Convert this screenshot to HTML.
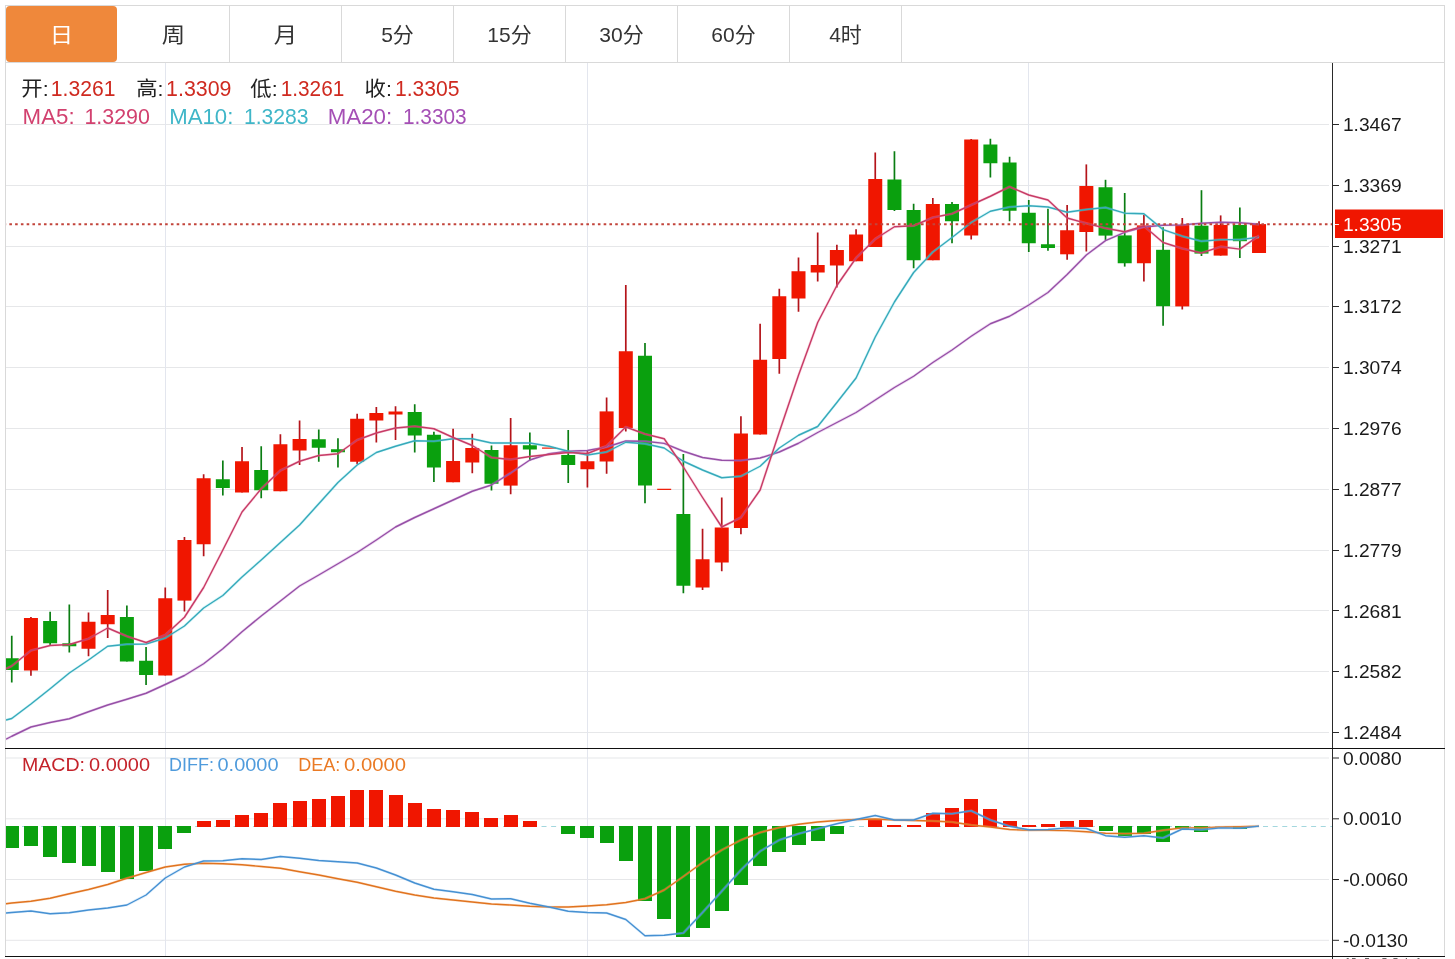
<!DOCTYPE html>
<html lang="zh"><head><meta charset="utf-8"><title>K线图</title>
<style>html,body{margin:0;padding:0;background:#fff;overflow:hidden}body{width:1455px;height:959px}</style></head>
<body>
<svg width="1455" height="959" viewBox="0 0 1455 959" style="display:block">
<defs><clipPath id="cp"><rect x="6" y="63" width="1326" height="894"/></clipPath></defs>
<rect width="1455" height="959" fill="#fff"/>
<g shape-rendering="crispEdges">
<rect x="6" y="124" width="1323" height="1" fill="#e6e7e9"/>
<rect x="6" y="185" width="1323" height="1" fill="#e6e7e9"/>
<rect x="6" y="246" width="1323" height="1" fill="#e6e7e9"/>
<rect x="6" y="306" width="1323" height="1" fill="#e6e7e9"/>
<rect x="6" y="367" width="1323" height="1" fill="#e6e7e9"/>
<rect x="6" y="428" width="1323" height="1" fill="#e6e7e9"/>
<rect x="6" y="489" width="1323" height="1" fill="#e6e7e9"/>
<rect x="6" y="550" width="1323" height="1" fill="#e6e7e9"/>
<rect x="6" y="610" width="1323" height="1" fill="#e6e7e9"/>
<rect x="6" y="671" width="1323" height="1" fill="#e6e7e9"/>
<rect x="6" y="732" width="1323" height="1" fill="#e6e7e9"/>
<rect x="6" y="757.50" width="1323" height="1" fill="#e6e7e9" shape-rendering="auto"/>
<rect x="6" y="818.30" width="1323" height="1" fill="#e6e7e9" shape-rendering="auto"/>
<rect x="6" y="879.00" width="1323" height="1" fill="#e6e7e9" shape-rendering="auto"/>
<rect x="6" y="939.80" width="1323" height="1" fill="#e6e7e9" shape-rendering="auto"/>
<rect x="165" y="63" width="1" height="893" fill="#e3e6ee"/>
<rect x="587" y="63" width="1" height="893" fill="#e3e6ee"/>
<rect x="1028" y="63" width="1" height="893" fill="#e3e6ee"/>
<rect x="5" y="5" width="1440" height="1" fill="#d9d9d9"/>
<rect x="5" y="62" width="1440" height="1" fill="#d9d9d9"/>
<rect x="5" y="5" width="1" height="951" fill="#d9d9d9"/>
<rect x="1444" y="5" width="1" height="951" fill="#d9d9d9"/>
<rect x="229" y="6" width="1" height="56" fill="#d9d9d9"/>
<rect x="341" y="6" width="1" height="56" fill="#d9d9d9"/>
<rect x="453" y="6" width="1" height="56" fill="#d9d9d9"/>
<rect x="565" y="6" width="1" height="56" fill="#d9d9d9"/>
<rect x="677" y="6" width="1" height="56" fill="#d9d9d9"/>
<rect x="789" y="6" width="1" height="56" fill="#d9d9d9"/>
<rect x="901" y="6" width="1" height="56" fill="#d9d9d9"/>
</g>
<rect x="6" y="6" width="111" height="56" rx="4" ry="4" fill="#ef883b"/>
<text x="61.5" y="41.8" text-anchor="middle" font-size="21" textLength="23.4" lengthAdjust="spacingAndGlyphs" font-family="Liberation Sans, Noto Sans CJK SC, sans-serif" fill="#fff">日</text>
<text x="173.5" y="41.8" text-anchor="middle" font-size="21" textLength="23.4" lengthAdjust="spacingAndGlyphs" font-family="Liberation Sans, Noto Sans CJK SC, sans-serif" fill="#333">周</text>
<text x="285.5" y="41.8" text-anchor="middle" font-size="21" textLength="23.4" lengthAdjust="spacingAndGlyphs" font-family="Liberation Sans, Noto Sans CJK SC, sans-serif" fill="#333">月</text>
<text x="397.5" y="42" text-anchor="middle" font-size="21" font-family="Liberation Sans, Noto Sans CJK SC, sans-serif" fill="#333">5分</text>
<text x="509.5" y="42" text-anchor="middle" font-size="21" font-family="Liberation Sans, Noto Sans CJK SC, sans-serif" fill="#333">15分</text>
<text x="621.5" y="42" text-anchor="middle" font-size="21" font-family="Liberation Sans, Noto Sans CJK SC, sans-serif" fill="#333">30分</text>
<text x="733.5" y="42" text-anchor="middle" font-size="21" font-family="Liberation Sans, Noto Sans CJK SC, sans-serif" fill="#333">60分</text>
<text x="845.5" y="42" text-anchor="middle" font-size="21" font-family="Liberation Sans, Noto Sans CJK SC, sans-serif" fill="#333">4时</text>
<line x1="6" y1="826.5" x2="1332" y2="826.5" stroke="#a3d7de" stroke-width="1" stroke-dasharray="5 4.62" stroke-dashoffset="3.2"/>
<g clip-path="url(#cp)">
<g shape-rendering="crispEdges">
<rect x="4.75" y="826" width="14" height="21.50" fill="#0aa00e"/>
<rect x="23.94" y="826" width="14" height="19.75" fill="#0aa00e"/>
<rect x="43.13" y="826" width="14" height="30.75" fill="#0aa00e"/>
<rect x="62.32" y="826" width="14" height="36.50" fill="#0aa00e"/>
<rect x="81.51" y="826" width="14" height="39.50" fill="#0aa00e"/>
<rect x="100.69" y="826" width="14" height="46.00" fill="#0aa00e"/>
<rect x="119.88" y="826" width="14" height="52.75" fill="#0aa00e"/>
<rect x="139.07" y="826" width="14" height="44.50" fill="#0aa00e"/>
<rect x="158.26" y="826" width="14" height="22.75" fill="#0aa00e"/>
<rect x="177.45" y="826" width="14" height="6.50" fill="#0aa00e"/>
<rect x="196.64" y="821.25" width="14" height="5.75" fill="#f01600"/>
<rect x="215.83" y="820.00" width="14" height="7.00" fill="#f01600"/>
<rect x="235.02" y="814.50" width="14" height="12.50" fill="#f01600"/>
<rect x="254.21" y="813.25" width="14" height="13.75" fill="#f01600"/>
<rect x="273.40" y="803.25" width="14" height="23.75" fill="#f01600"/>
<rect x="292.58" y="801.00" width="14" height="26.00" fill="#f01600"/>
<rect x="311.77" y="799.25" width="14" height="27.75" fill="#f01600"/>
<rect x="330.96" y="795.50" width="14" height="31.50" fill="#f01600"/>
<rect x="350.15" y="789.50" width="14" height="37.50" fill="#f01600"/>
<rect x="369.34" y="790.00" width="14" height="37.00" fill="#f01600"/>
<rect x="388.53" y="794.50" width="14" height="32.50" fill="#f01600"/>
<rect x="407.72" y="802.50" width="14" height="24.50" fill="#f01600"/>
<rect x="426.91" y="809.25" width="14" height="17.75" fill="#f01600"/>
<rect x="446.10" y="810.00" width="14" height="17.00" fill="#f01600"/>
<rect x="465.29" y="811.75" width="14" height="15.25" fill="#f01600"/>
<rect x="484.48" y="817.50" width="14" height="9.50" fill="#f01600"/>
<rect x="503.66" y="815.00" width="14" height="12.00" fill="#f01600"/>
<rect x="522.85" y="820.50" width="14" height="6.50" fill="#f01600"/>
<rect x="561.23" y="826" width="14" height="7.75" fill="#0aa00e"/>
<rect x="580.42" y="826" width="14" height="12.00" fill="#0aa00e"/>
<rect x="599.61" y="826" width="14" height="16.50" fill="#0aa00e"/>
<rect x="618.80" y="826" width="14" height="34.50" fill="#0aa00e"/>
<rect x="637.99" y="826" width="14" height="74.75" fill="#0aa00e"/>
<rect x="657.18" y="826" width="14" height="93.25" fill="#0aa00e"/>
<rect x="676.37" y="826" width="14" height="111.00" fill="#0aa00e"/>
<rect x="695.55" y="826" width="14" height="102.00" fill="#0aa00e"/>
<rect x="714.74" y="826" width="14" height="85.25" fill="#0aa00e"/>
<rect x="733.93" y="826" width="14" height="59.00" fill="#0aa00e"/>
<rect x="753.12" y="826" width="14" height="39.50" fill="#0aa00e"/>
<rect x="772.31" y="826" width="14" height="25.50" fill="#0aa00e"/>
<rect x="791.50" y="826" width="14" height="19.00" fill="#0aa00e"/>
<rect x="810.69" y="826" width="14" height="14.50" fill="#0aa00e"/>
<rect x="829.88" y="826" width="14" height="7.75" fill="#0aa00e"/>
<rect x="868.25" y="820.00" width="14" height="7.00" fill="#f01600"/>
<rect x="887.44" y="825.25" width="14" height="1.75" fill="#f01600"/>
<rect x="906.63" y="825.40" width="14" height="1.60" fill="#f01600"/>
<rect x="925.82" y="812.50" width="14" height="14.50" fill="#f01600"/>
<rect x="945.01" y="808.25" width="14" height="18.75" fill="#f01600"/>
<rect x="964.20" y="799.00" width="14" height="28.00" fill="#f01600"/>
<rect x="983.39" y="809.25" width="14" height="17.75" fill="#f01600"/>
<rect x="1002.58" y="820.50" width="14" height="6.50" fill="#f01600"/>
<rect x="1021.77" y="825.40" width="14" height="1.60" fill="#f01600"/>
<rect x="1040.96" y="824.30" width="14" height="2.70" fill="#f01600"/>
<rect x="1060.14" y="820.70" width="14" height="6.30" fill="#f01600"/>
<rect x="1079.33" y="819.50" width="14" height="7.50" fill="#f01600"/>
<rect x="1098.52" y="826" width="14" height="5.20" fill="#0aa00e"/>
<rect x="1117.71" y="826" width="14" height="9.70" fill="#0aa00e"/>
<rect x="1136.90" y="826" width="14" height="8.20" fill="#0aa00e"/>
<rect x="1156.09" y="826" width="14" height="15.60" fill="#0aa00e"/>
<rect x="1175.28" y="826" width="14" height="3.00" fill="#0aa00e"/>
<rect x="1194.47" y="826" width="14" height="5.80" fill="#0aa00e"/>
<rect x="1232.85" y="826" width="14" height="2.50" fill="#0aa00e"/>
</g>
<g>
<line x1="11.75" y1="635.75" x2="11.75" y2="682.50" stroke="#0a7d12" stroke-width="1.7"/>
<rect x="4.75" y="658.25" width="14" height="11.75" fill="#0aa00e"/>
<line x1="30.94" y1="617.00" x2="30.94" y2="675.75" stroke="#b4141a" stroke-width="1.7"/>
<rect x="23.94" y="618.00" width="14" height="52.50" fill="#f01600"/>
<line x1="50.13" y1="611.75" x2="50.13" y2="645.00" stroke="#0a7d12" stroke-width="1.7"/>
<rect x="43.13" y="621.00" width="14" height="22.25" fill="#0aa00e"/>
<line x1="69.32" y1="604.50" x2="69.32" y2="652.50" stroke="#0a7d12" stroke-width="1.7"/>
<rect x="62.32" y="643.25" width="14" height="3.00" fill="#0aa00e"/>
<line x1="88.51" y1="612.50" x2="88.51" y2="656.25" stroke="#b4141a" stroke-width="1.7"/>
<rect x="81.51" y="621.75" width="14" height="27.00" fill="#f01600"/>
<line x1="107.69" y1="590.00" x2="107.69" y2="638.00" stroke="#b4141a" stroke-width="1.7"/>
<rect x="100.69" y="615.00" width="14" height="9.25" fill="#f01600"/>
<line x1="126.88" y1="605.50" x2="126.88" y2="661.50" stroke="#0a7d12" stroke-width="1.7"/>
<rect x="119.88" y="617.00" width="14" height="44.50" fill="#0aa00e"/>
<line x1="146.07" y1="647.00" x2="146.07" y2="685.00" stroke="#0a7d12" stroke-width="1.7"/>
<rect x="139.07" y="660.75" width="14" height="14.25" fill="#0aa00e"/>
<line x1="165.26" y1="587.50" x2="165.26" y2="675.50" stroke="#b4141a" stroke-width="1.7"/>
<rect x="158.26" y="598.25" width="14" height="77.25" fill="#f01600"/>
<line x1="184.45" y1="537.00" x2="184.45" y2="611.50" stroke="#b4141a" stroke-width="1.7"/>
<rect x="177.45" y="540.00" width="14" height="60.60" fill="#f01600"/>
<line x1="203.64" y1="474.25" x2="203.64" y2="556.25" stroke="#b4141a" stroke-width="1.7"/>
<rect x="196.64" y="478.25" width="14" height="66.00" fill="#f01600"/>
<line x1="222.83" y1="460.50" x2="222.83" y2="495.50" stroke="#0a7d12" stroke-width="1.7"/>
<rect x="215.83" y="479.25" width="14" height="8.75" fill="#0aa00e"/>
<line x1="242.02" y1="447.00" x2="242.02" y2="492.50" stroke="#b4141a" stroke-width="1.7"/>
<rect x="235.02" y="461.25" width="14" height="31.25" fill="#f01600"/>
<line x1="261.21" y1="446.25" x2="261.21" y2="498.25" stroke="#0a7d12" stroke-width="1.7"/>
<rect x="254.21" y="470.00" width="14" height="20.25" fill="#0aa00e"/>
<line x1="280.40" y1="434.25" x2="280.40" y2="491.25" stroke="#b4141a" stroke-width="1.7"/>
<rect x="273.40" y="444.25" width="14" height="47.00" fill="#f01600"/>
<line x1="299.58" y1="420.50" x2="299.58" y2="465.00" stroke="#b4141a" stroke-width="1.7"/>
<rect x="292.58" y="439.00" width="14" height="11.50" fill="#f01600"/>
<line x1="318.77" y1="429.50" x2="318.77" y2="461.75" stroke="#0a7d12" stroke-width="1.7"/>
<rect x="311.77" y="439.25" width="14" height="8.50" fill="#0aa00e"/>
<line x1="337.96" y1="438.25" x2="337.96" y2="467.50" stroke="#0a7d12" stroke-width="1.7"/>
<rect x="330.96" y="449.25" width="14" height="3.00" fill="#0aa00e"/>
<line x1="357.15" y1="413.75" x2="357.15" y2="464.25" stroke="#b4141a" stroke-width="1.7"/>
<rect x="350.15" y="418.75" width="14" height="43.00" fill="#f01600"/>
<line x1="376.34" y1="407.00" x2="376.34" y2="442.50" stroke="#b4141a" stroke-width="1.7"/>
<rect x="369.34" y="413.00" width="14" height="7.50" fill="#f01600"/>
<line x1="395.53" y1="406.25" x2="395.53" y2="440.00" stroke="#b4141a" stroke-width="1.7"/>
<rect x="388.53" y="411.50" width="14" height="3.00" fill="#f01600"/>
<line x1="414.72" y1="404.25" x2="414.72" y2="452.50" stroke="#0a7d12" stroke-width="1.7"/>
<rect x="407.72" y="412.00" width="14" height="23.50" fill="#0aa00e"/>
<line x1="433.91" y1="431.75" x2="433.91" y2="482.00" stroke="#0a7d12" stroke-width="1.7"/>
<rect x="426.91" y="434.75" width="14" height="32.75" fill="#0aa00e"/>
<line x1="453.10" y1="428.75" x2="453.10" y2="482.25" stroke="#b4141a" stroke-width="1.7"/>
<rect x="446.10" y="461.00" width="14" height="21.25" fill="#f01600"/>
<line x1="472.29" y1="433.75" x2="472.29" y2="473.25" stroke="#b4141a" stroke-width="1.7"/>
<rect x="465.29" y="448.00" width="14" height="14.50" fill="#f01600"/>
<line x1="491.48" y1="445.50" x2="491.48" y2="490.50" stroke="#0a7d12" stroke-width="1.7"/>
<rect x="484.48" y="450.00" width="14" height="33.75" fill="#0aa00e"/>
<line x1="510.66" y1="418.00" x2="510.66" y2="494.25" stroke="#b4141a" stroke-width="1.7"/>
<rect x="503.66" y="445.25" width="14" height="40.35" fill="#f01600"/>
<line x1="529.85" y1="432.50" x2="529.85" y2="460.40" stroke="#0a7d12" stroke-width="1.7"/>
<rect x="522.85" y="445.25" width="14" height="4.25" fill="#0aa00e"/>
<rect x="542.04" y="447.50" width="14" height="1.20" fill="#f01600"/>
<line x1="568.23" y1="430.00" x2="568.23" y2="483.00" stroke="#0a7d12" stroke-width="1.7"/>
<rect x="561.23" y="455.00" width="14" height="10.00" fill="#0aa00e"/>
<line x1="587.42" y1="450.50" x2="587.42" y2="487.50" stroke="#b4141a" stroke-width="1.7"/>
<rect x="580.42" y="461.25" width="14" height="8.00" fill="#f01600"/>
<line x1="606.61" y1="397.50" x2="606.61" y2="473.75" stroke="#b4141a" stroke-width="1.7"/>
<rect x="599.61" y="411.40" width="14" height="50.10" fill="#f01600"/>
<line x1="625.80" y1="285.00" x2="625.80" y2="431.50" stroke="#b4141a" stroke-width="1.7"/>
<rect x="618.80" y="351.25" width="14" height="76.75" fill="#f01600"/>
<line x1="644.99" y1="343.00" x2="644.99" y2="503.25" stroke="#0a7d12" stroke-width="1.7"/>
<rect x="637.99" y="355.75" width="14" height="129.75" fill="#0aa00e"/>
<rect x="657.18" y="488.75" width="14" height="1.20" fill="#f01600"/>
<line x1="683.37" y1="454.00" x2="683.37" y2="593.25" stroke="#0a7d12" stroke-width="1.7"/>
<rect x="676.37" y="514.00" width="14" height="71.75" fill="#0aa00e"/>
<line x1="702.55" y1="528.75" x2="702.55" y2="590.00" stroke="#b4141a" stroke-width="1.7"/>
<rect x="695.55" y="559.25" width="14" height="28.25" fill="#f01600"/>
<line x1="721.74" y1="497.50" x2="721.74" y2="571.25" stroke="#b4141a" stroke-width="1.7"/>
<rect x="714.74" y="527.50" width="14" height="35.00" fill="#f01600"/>
<line x1="740.93" y1="416.25" x2="740.93" y2="534.25" stroke="#b4141a" stroke-width="1.7"/>
<rect x="733.93" y="433.50" width="14" height="94.50" fill="#f01600"/>
<line x1="760.12" y1="323.75" x2="760.12" y2="434.50" stroke="#b4141a" stroke-width="1.7"/>
<rect x="753.12" y="359.75" width="14" height="74.75" fill="#f01600"/>
<line x1="779.31" y1="288.75" x2="779.31" y2="373.75" stroke="#b4141a" stroke-width="1.7"/>
<rect x="772.31" y="296.25" width="14" height="62.75" fill="#f01600"/>
<line x1="798.50" y1="257.50" x2="798.50" y2="311.75" stroke="#b4141a" stroke-width="1.7"/>
<rect x="791.50" y="271.25" width="14" height="27.25" fill="#f01600"/>
<line x1="817.69" y1="232.50" x2="817.69" y2="281.50" stroke="#b4141a" stroke-width="1.7"/>
<rect x="810.69" y="265.00" width="14" height="7.50" fill="#f01600"/>
<line x1="836.88" y1="244.75" x2="836.88" y2="287.50" stroke="#b4141a" stroke-width="1.7"/>
<rect x="829.88" y="250.00" width="14" height="15.50" fill="#f01600"/>
<line x1="856.07" y1="229.25" x2="856.07" y2="261.25" stroke="#b4141a" stroke-width="1.7"/>
<rect x="849.07" y="234.50" width="14" height="26.75" fill="#f01600"/>
<line x1="875.25" y1="152.50" x2="875.25" y2="247.00" stroke="#b4141a" stroke-width="1.7"/>
<rect x="868.25" y="179.00" width="14" height="68.00" fill="#f01600"/>
<line x1="894.44" y1="151.25" x2="894.44" y2="211.00" stroke="#0a7d12" stroke-width="1.7"/>
<rect x="887.44" y="179.50" width="14" height="30.50" fill="#0aa00e"/>
<line x1="913.63" y1="203.75" x2="913.63" y2="268.25" stroke="#0a7d12" stroke-width="1.7"/>
<rect x="906.63" y="210.00" width="14" height="50.25" fill="#0aa00e"/>
<line x1="932.82" y1="198.00" x2="932.82" y2="260.25" stroke="#b4141a" stroke-width="1.7"/>
<rect x="925.82" y="204.00" width="14" height="56.25" fill="#f01600"/>
<line x1="952.01" y1="202.00" x2="952.01" y2="243.25" stroke="#0a7d12" stroke-width="1.7"/>
<rect x="945.01" y="204.00" width="14" height="17.25" fill="#0aa00e"/>
<line x1="971.20" y1="139.00" x2="971.20" y2="239.50" stroke="#b4141a" stroke-width="1.7"/>
<rect x="964.20" y="139.50" width="14" height="96.00" fill="#f01600"/>
<line x1="990.39" y1="138.75" x2="990.39" y2="177.50" stroke="#0a7d12" stroke-width="1.7"/>
<rect x="983.39" y="144.50" width="14" height="18.75" fill="#0aa00e"/>
<line x1="1009.58" y1="156.75" x2="1009.58" y2="221.25" stroke="#0a7d12" stroke-width="1.7"/>
<rect x="1002.58" y="162.50" width="14" height="48.25" fill="#0aa00e"/>
<line x1="1028.77" y1="200.00" x2="1028.77" y2="252.00" stroke="#0a7d12" stroke-width="1.7"/>
<rect x="1021.77" y="212.75" width="14" height="30.50" fill="#0aa00e"/>
<line x1="1047.96" y1="208.75" x2="1047.96" y2="250.75" stroke="#0a7d12" stroke-width="1.7"/>
<rect x="1040.96" y="244.25" width="14" height="3.75" fill="#0aa00e"/>
<line x1="1067.14" y1="205.00" x2="1067.14" y2="259.75" stroke="#b4141a" stroke-width="1.7"/>
<rect x="1060.14" y="230.25" width="14" height="24.05" fill="#f01600"/>
<line x1="1086.33" y1="164.40" x2="1086.33" y2="251.50" stroke="#b4141a" stroke-width="1.7"/>
<rect x="1079.33" y="186.00" width="14" height="46.00" fill="#f01600"/>
<line x1="1105.52" y1="179.80" x2="1105.52" y2="240.00" stroke="#0a7d12" stroke-width="1.7"/>
<rect x="1098.52" y="187.25" width="14" height="48.35" fill="#0aa00e"/>
<line x1="1124.71" y1="193.00" x2="1124.71" y2="266.60" stroke="#0a7d12" stroke-width="1.7"/>
<rect x="1117.71" y="235.40" width="14" height="27.85" fill="#0aa00e"/>
<line x1="1143.90" y1="214.70" x2="1143.90" y2="281.50" stroke="#b4141a" stroke-width="1.7"/>
<rect x="1136.90" y="225.40" width="14" height="37.85" fill="#f01600"/>
<line x1="1163.09" y1="227.30" x2="1163.09" y2="325.70" stroke="#0a7d12" stroke-width="1.7"/>
<rect x="1156.09" y="249.80" width="14" height="56.40" fill="#0aa00e"/>
<line x1="1182.28" y1="218.00" x2="1182.28" y2="309.50" stroke="#b4141a" stroke-width="1.7"/>
<rect x="1175.28" y="224.90" width="14" height="81.50" fill="#f01600"/>
<line x1="1201.47" y1="190.20" x2="1201.47" y2="256.00" stroke="#0a7d12" stroke-width="1.7"/>
<rect x="1194.47" y="225.70" width="14" height="27.90" fill="#0aa00e"/>
<line x1="1220.66" y1="215.40" x2="1220.66" y2="255.60" stroke="#b4141a" stroke-width="1.7"/>
<rect x="1213.66" y="224.90" width="14" height="30.70" fill="#f01600"/>
<line x1="1239.85" y1="207.50" x2="1239.85" y2="258.00" stroke="#0a7d12" stroke-width="1.7"/>
<rect x="1232.85" y="224.90" width="14" height="16.30" fill="#0aa00e"/>
<line x1="1259.04" y1="221.30" x2="1259.04" y2="253.00" stroke="#b4141a" stroke-width="1.7"/>
<rect x="1252.04" y="224.10" width="14" height="28.90" fill="#f01600"/>
</g>
<polyline fill="none" stroke="#c98ad6" stroke-opacity="0.32" stroke-width="2.7" stroke-linejoin="round" points="6,739.25 11.75,736.25 30.94,727.00 50.13,722.50 69.32,718.75 88.51,711.75 107.69,705.00 126.88,699.25 146.07,693.25 165.26,684.50 184.45,675.50 203.64,663.75 222.83,648.75 242.02,631.75 261.21,616.00 280.40,601.00 299.58,586.00 318.77,575.00 337.96,563.75 357.15,552.50 376.34,540.00 395.53,527.00 414.72,517.50 433.91,508.75 453.10,500.00 472.29,491.25 491.48,485.00 510.66,473.00 529.85,460.00 549.04,453.75 568.23,451.25 587.42,450.50 606.61,447.00 625.80,441.00 644.99,441.25 664.18,443.40 683.37,451.25 702.55,457.50 721.74,460.25 740.93,460.50 760.12,458.00 779.31,452.00 798.50,443.25 817.69,432.50 836.88,422.50 856.07,412.50 875.25,400.00 894.44,387.50 913.63,376.25 932.82,362.50 952.01,350.00 971.20,336.25 990.39,323.75 1009.58,316.25 1028.77,305.00 1047.96,292.50 1067.14,274.50 1086.33,255.00 1105.52,240.60 1124.71,232.30 1143.90,227.00 1163.09,225.20 1182.28,224.90 1201.47,223.30 1220.66,222.30 1239.85,222.70 1259.04,224.30"/>
<polyline fill="none" stroke="#9650a6" stroke-width="1.4" stroke-linejoin="round" points="6,739.25 11.75,736.25 30.94,727.00 50.13,722.50 69.32,718.75 88.51,711.75 107.69,705.00 126.88,699.25 146.07,693.25 165.26,684.50 184.45,675.50 203.64,663.75 222.83,648.75 242.02,631.75 261.21,616.00 280.40,601.00 299.58,586.00 318.77,575.00 337.96,563.75 357.15,552.50 376.34,540.00 395.53,527.00 414.72,517.50 433.91,508.75 453.10,500.00 472.29,491.25 491.48,485.00 510.66,473.00 529.85,460.00 549.04,453.75 568.23,451.25 587.42,450.50 606.61,447.00 625.80,441.00 644.99,441.25 664.18,443.40 683.37,451.25 702.55,457.50 721.74,460.25 740.93,460.50 760.12,458.00 779.31,452.00 798.50,443.25 817.69,432.50 836.88,422.50 856.07,412.50 875.25,400.00 894.44,387.50 913.63,376.25 932.82,362.50 952.01,350.00 971.20,336.25 990.39,323.75 1009.58,316.25 1028.77,305.00 1047.96,292.50 1067.14,274.50 1086.33,255.00 1105.52,240.60 1124.71,232.30 1143.90,227.00 1163.09,225.20 1182.28,224.90 1201.47,223.30 1220.66,222.30 1239.85,222.70 1259.04,224.30"/>
<polyline fill="none" stroke="#7fe0ea" stroke-opacity="0.32" stroke-width="2.7" stroke-linejoin="round" points="6,720.00 11.75,718.50 30.94,704.00 50.13,688.75 69.32,673.00 88.51,660.00 107.69,646.25 126.88,644.25 146.07,644.00 165.26,638.00 184.45,626.00 203.64,608.00 222.83,595.50 242.02,577.00 261.21,560.00 280.40,542.50 299.58,525.00 318.77,503.75 337.96,482.50 357.15,465.00 376.34,452.50 395.53,446.25 414.72,440.75 433.91,441.25 453.10,438.75 472.29,438.75 491.48,443.00 510.66,443.00 529.85,443.00 549.04,446.25 568.23,451.25 587.42,455.00 606.61,452.00 625.80,442.25 644.99,443.75 664.18,448.00 683.37,461.25 702.55,470.00 721.74,477.75 740.93,476.25 760.12,466.25 779.31,448.00 798.50,435.25 817.69,426.50 836.88,402.50 856.07,378.00 875.25,337.00 894.44,302.00 913.63,272.50 932.82,252.00 952.01,237.50 971.20,222.50 990.39,211.25 1009.58,207.00 1028.77,205.75 1047.96,207.00 1067.14,212.20 1086.33,209.50 1105.52,207.50 1124.71,213.20 1143.90,213.70 1163.09,229.60 1182.28,236.20 1201.47,241.20 1220.66,239.60 1239.85,239.60 1259.04,237.20"/>
<polyline fill="none" stroke="#36a9ba" stroke-width="1.4" stroke-linejoin="round" points="6,720.00 11.75,718.50 30.94,704.00 50.13,688.75 69.32,673.00 88.51,660.00 107.69,646.25 126.88,644.25 146.07,644.00 165.26,638.00 184.45,626.00 203.64,608.00 222.83,595.50 242.02,577.00 261.21,560.00 280.40,542.50 299.58,525.00 318.77,503.75 337.96,482.50 357.15,465.00 376.34,452.50 395.53,446.25 414.72,440.75 433.91,441.25 453.10,438.75 472.29,438.75 491.48,443.00 510.66,443.00 529.85,443.00 549.04,446.25 568.23,451.25 587.42,455.00 606.61,452.00 625.80,442.25 644.99,443.75 664.18,448.00 683.37,461.25 702.55,470.00 721.74,477.75 740.93,476.25 760.12,466.25 779.31,448.00 798.50,435.25 817.69,426.50 836.88,402.50 856.07,378.00 875.25,337.00 894.44,302.00 913.63,272.50 932.82,252.00 952.01,237.50 971.20,222.50 990.39,211.25 1009.58,207.00 1028.77,205.75 1047.96,207.00 1067.14,212.20 1086.33,209.50 1105.52,207.50 1124.71,213.20 1143.90,213.70 1163.09,229.60 1182.28,236.20 1201.47,241.20 1220.66,239.60 1239.85,239.60 1259.04,237.20"/>
<polyline fill="none" stroke="#f58aa8" stroke-opacity="0.32" stroke-width="2.7" stroke-linejoin="round" points="6,668.75 11.75,666.00 30.94,650.50 50.13,645.50 69.32,644.50 88.51,638.75 107.69,628.00 126.88,636.25 146.07,642.50 165.26,635.00 184.45,617.25 203.64,587.50 222.83,550.00 242.02,512.00 261.21,488.75 280.40,470.50 299.58,461.25 318.77,455.50 337.96,453.75 357.15,440.00 376.34,433.00 395.53,428.00 414.72,426.25 433.91,428.75 453.10,437.50 472.29,445.50 491.48,457.50 510.66,459.50 529.85,456.50 549.04,454.50 568.23,452.50 587.42,453.50 606.61,446.00 625.80,427.00 644.99,434.00 664.18,438.75 683.37,467.00 702.55,497.50 721.74,527.00 740.93,517.50 760.12,490.00 779.31,432.00 798.50,375.25 817.69,322.50 836.88,285.50 856.07,258.00 875.25,239.00 894.44,226.75 913.63,225.75 932.82,217.50 952.01,213.75 971.20,205.00 990.39,196.25 1009.58,186.75 1028.77,195.00 1047.96,200.00 1067.14,218.00 1086.33,223.30 1105.52,228.20 1124.71,231.70 1143.90,226.00 1163.09,242.50 1182.28,248.50 1201.47,253.00 1220.66,246.70 1239.85,249.10 1259.04,235.60"/>
<polyline fill="none" stroke="#c63b66" stroke-width="1.4" stroke-linejoin="round" points="6,668.75 11.75,666.00 30.94,650.50 50.13,645.50 69.32,644.50 88.51,638.75 107.69,628.00 126.88,636.25 146.07,642.50 165.26,635.00 184.45,617.25 203.64,587.50 222.83,550.00 242.02,512.00 261.21,488.75 280.40,470.50 299.58,461.25 318.77,455.50 337.96,453.75 357.15,440.00 376.34,433.00 395.53,428.00 414.72,426.25 433.91,428.75 453.10,437.50 472.29,445.50 491.48,457.50 510.66,459.50 529.85,456.50 549.04,454.50 568.23,452.50 587.42,453.50 606.61,446.00 625.80,427.00 644.99,434.00 664.18,438.75 683.37,467.00 702.55,497.50 721.74,527.00 740.93,517.50 760.12,490.00 779.31,432.00 798.50,375.25 817.69,322.50 836.88,285.50 856.07,258.00 875.25,239.00 894.44,226.75 913.63,225.75 932.82,217.50 952.01,213.75 971.20,205.00 990.39,196.25 1009.58,186.75 1028.77,195.00 1047.96,200.00 1067.14,218.00 1086.33,223.30 1105.52,228.20 1124.71,231.70 1143.90,226.00 1163.09,242.50 1182.28,248.50 1201.47,253.00 1220.66,246.70 1239.85,249.10 1259.04,235.60"/>
<polyline fill="none" stroke="#f6b27a" stroke-opacity="0.32" stroke-width="2.7" stroke-linejoin="round" points="6,903.75 11.75,903.00 30.94,901.25 50.13,898.25 69.32,893.75 88.51,889.50 107.69,884.50 126.88,878.25 146.07,872.50 165.26,867.00 184.45,864.25 203.64,863.25 222.83,863.75 242.02,864.75 261.21,866.50 280.40,868.25 299.58,871.75 318.77,875.00 337.96,878.75 357.15,882.25 376.34,886.75 395.53,891.25 414.72,895.00 433.91,898.00 453.10,900.00 472.29,902.00 491.48,904.00 510.66,905.00 529.85,906.25 549.04,907.00 568.23,907.00 587.42,906.00 606.61,904.75 625.80,902.50 644.99,898.75 664.18,890.00 683.37,876.50 702.55,862.50 721.74,850.00 740.93,840.00 760.12,832.50 779.31,827.50 798.50,824.25 817.69,822.00 836.88,820.50 856.07,819.50 875.25,819.00 894.44,820.00 913.63,820.50 932.82,821.00 952.01,822.00 971.20,825.00 990.39,827.00 1009.58,829.50 1028.77,830.40 1047.96,830.40 1067.14,830.60 1086.33,831.80 1105.52,833.30 1124.71,833.60 1143.90,833.30 1163.09,830.30 1182.28,827.90 1201.47,827.90 1220.66,827.00 1239.85,826.70 1259.04,826.10"/>
<polyline fill="none" stroke="#e0731f" stroke-width="1.4" stroke-linejoin="round" points="6,903.75 11.75,903.00 30.94,901.25 50.13,898.25 69.32,893.75 88.51,889.50 107.69,884.50 126.88,878.25 146.07,872.50 165.26,867.00 184.45,864.25 203.64,863.25 222.83,863.75 242.02,864.75 261.21,866.50 280.40,868.25 299.58,871.75 318.77,875.00 337.96,878.75 357.15,882.25 376.34,886.75 395.53,891.25 414.72,895.00 433.91,898.00 453.10,900.00 472.29,902.00 491.48,904.00 510.66,905.00 529.85,906.25 549.04,907.00 568.23,907.00 587.42,906.00 606.61,904.75 625.80,902.50 644.99,898.75 664.18,890.00 683.37,876.50 702.55,862.50 721.74,850.00 740.93,840.00 760.12,832.50 779.31,827.50 798.50,824.25 817.69,822.00 836.88,820.50 856.07,819.50 875.25,819.00 894.44,820.00 913.63,820.50 932.82,821.00 952.01,822.00 971.20,825.00 990.39,827.00 1009.58,829.50 1028.77,830.40 1047.96,830.40 1067.14,830.60 1086.33,831.80 1105.52,833.30 1124.71,833.60 1143.90,833.30 1163.09,830.30 1182.28,827.90 1201.47,827.90 1220.66,827.00 1239.85,826.70 1259.04,826.10"/>
<polyline fill="none" stroke="#9ccbf2" stroke-opacity="0.32" stroke-width="2.7" stroke-linejoin="round" points="6,913.00 11.75,912.50 30.94,911.00 50.13,913.75 69.32,912.75 88.51,910.00 107.69,908.00 126.88,905.00 146.07,895.00 165.26,878.00 184.45,867.00 203.64,861.00 222.83,860.75 242.02,858.75 261.21,859.50 280.40,856.50 299.58,858.25 318.77,860.50 337.96,861.75 357.15,863.00 376.34,868.00 395.53,875.00 414.72,883.00 433.91,889.25 453.10,891.75 472.29,894.50 491.48,899.00 510.66,898.75 529.85,903.25 549.04,907.00 568.23,911.25 587.42,912.50 606.61,913.00 625.80,919.50 644.99,935.75 664.18,935.25 683.37,933.00 702.55,912.50 721.74,891.25 740.93,870.00 760.12,851.25 779.31,840.00 798.50,833.75 817.69,828.75 836.88,823.75 856.07,819.50 875.25,815.50 894.44,820.00 913.63,820.00 932.82,813.25 952.01,813.75 971.20,810.75 990.39,820.00 1009.58,826.25 1028.77,829.80 1047.96,829.50 1067.14,827.90 1086.33,828.50 1105.52,835.70 1124.71,837.20 1143.90,835.70 1163.09,838.00 1182.28,829.00 1201.47,829.70 1220.66,827.90 1239.85,828.20 1259.04,826.10"/>
<polyline fill="none" stroke="#4590d2" stroke-width="1.4" stroke-linejoin="round" points="6,913.00 11.75,912.50 30.94,911.00 50.13,913.75 69.32,912.75 88.51,910.00 107.69,908.00 126.88,905.00 146.07,895.00 165.26,878.00 184.45,867.00 203.64,861.00 222.83,860.75 242.02,858.75 261.21,859.50 280.40,856.50 299.58,858.25 318.77,860.50 337.96,861.75 357.15,863.00 376.34,868.00 395.53,875.00 414.72,883.00 433.91,889.25 453.10,891.75 472.29,894.50 491.48,899.00 510.66,898.75 529.85,903.25 549.04,907.00 568.23,911.25 587.42,912.50 606.61,913.00 625.80,919.50 644.99,935.75 664.18,935.25 683.37,933.00 702.55,912.50 721.74,891.25 740.93,870.00 760.12,851.25 779.31,840.00 798.50,833.75 817.69,828.75 836.88,823.75 856.07,819.50 875.25,815.50 894.44,820.00 913.63,820.00 932.82,813.25 952.01,813.75 971.20,810.75 990.39,820.00 1009.58,826.25 1028.77,829.80 1047.96,829.50 1067.14,827.90 1086.33,828.50 1105.52,835.70 1124.71,837.20 1143.90,835.70 1163.09,838.00 1182.28,829.00 1201.47,829.70 1220.66,827.90 1239.85,828.20 1259.04,826.10"/>
</g>
<line x1="6" y1="224.2" x2="1332" y2="224.2" stroke="#c2443b" stroke-width="2.1" stroke-dasharray="2.6 3.17" stroke-dashoffset="2.43"/>
<g shape-rendering="crispEdges">
<rect x="1332" y="63" width="1" height="896" fill="#2a2a2a"/>
<rect x="5" y="748" width="1440" height="1" fill="#111"/>
<rect x="5" y="956" width="1440" height="1" fill="#111"/>
<rect x="1333" y="124" width="6" height="1" fill="#2a2a2a"/>
<rect x="1333" y="185" width="6" height="1" fill="#2a2a2a"/>
<rect x="1333" y="246" width="6" height="1" fill="#2a2a2a"/>
<rect x="1333" y="306" width="6" height="1" fill="#2a2a2a"/>
<rect x="1333" y="367" width="6" height="1" fill="#2a2a2a"/>
<rect x="1333" y="428" width="6" height="1" fill="#2a2a2a"/>
<rect x="1333" y="489" width="6" height="1" fill="#2a2a2a"/>
<rect x="1333" y="550" width="6" height="1" fill="#2a2a2a"/>
<rect x="1333" y="610" width="6" height="1" fill="#2a2a2a"/>
<rect x="1333" y="671" width="6" height="1" fill="#2a2a2a"/>
<rect x="1333" y="732" width="6" height="1" fill="#2a2a2a"/>
<rect x="1333" y="757.50" width="6" height="1" fill="#2a2a2a" shape-rendering="auto"/>
<rect x="1333" y="818.30" width="6" height="1" fill="#2a2a2a" shape-rendering="auto"/>
<rect x="1333" y="879.00" width="6" height="1" fill="#2a2a2a" shape-rendering="auto"/>
<rect x="1333" y="939.80" width="6" height="1" fill="#2a2a2a" shape-rendering="auto"/>
</g>
<text x="1342.9" y="131.0" font-size="19.2" font-family="Liberation Sans, Noto Sans CJK SC, sans-serif" fill="#1a1a1a">1.3467</text>
<text x="1342.9" y="191.8" font-size="19.2" font-family="Liberation Sans, Noto Sans CJK SC, sans-serif" fill="#1a1a1a">1.3369</text>
<text x="1342.9" y="252.6" font-size="19.2" font-family="Liberation Sans, Noto Sans CJK SC, sans-serif" fill="#1a1a1a">1.3271</text>
<text x="1342.9" y="313.4" font-size="19.2" font-family="Liberation Sans, Noto Sans CJK SC, sans-serif" fill="#1a1a1a">1.3172</text>
<text x="1342.9" y="374.2" font-size="19.2" font-family="Liberation Sans, Noto Sans CJK SC, sans-serif" fill="#1a1a1a">1.3074</text>
<text x="1342.9" y="435.1" font-size="19.2" font-family="Liberation Sans, Noto Sans CJK SC, sans-serif" fill="#1a1a1a">1.2976</text>
<text x="1342.9" y="495.9" font-size="19.2" font-family="Liberation Sans, Noto Sans CJK SC, sans-serif" fill="#1a1a1a">1.2877</text>
<text x="1342.9" y="556.7" font-size="19.2" font-family="Liberation Sans, Noto Sans CJK SC, sans-serif" fill="#1a1a1a">1.2779</text>
<text x="1342.9" y="617.5" font-size="19.2" font-family="Liberation Sans, Noto Sans CJK SC, sans-serif" fill="#1a1a1a">1.2681</text>
<text x="1342.9" y="678.3" font-size="19.2" font-family="Liberation Sans, Noto Sans CJK SC, sans-serif" fill="#1a1a1a">1.2582</text>
<text x="1342.9" y="739.1" font-size="19.2" font-family="Liberation Sans, Noto Sans CJK SC, sans-serif" fill="#1a1a1a">1.2484</text>
<text x="1342.9" y="764.6" font-size="19.2" font-family="Liberation Sans, Noto Sans CJK SC, sans-serif" fill="#1a1a1a">0.0080</text>
<text x="1342.9" y="825.4" font-size="19.2" font-family="Liberation Sans, Noto Sans CJK SC, sans-serif" fill="#1a1a1a">0.0010</text>
<text x="1342.9" y="886.1" font-size="19.2" font-family="Liberation Sans, Noto Sans CJK SC, sans-serif" fill="#1a1a1a">-0.0060</text>
<text x="1342.9" y="946.9" font-size="19.2" font-family="Liberation Sans, Noto Sans CJK SC, sans-serif" fill="#1a1a1a">-0.0130</text>
<rect x="1335" y="209.5" width="108" height="28.5" fill="#f01600"/>
<rect x="1333" y="224" width="6" height="1" fill="#fff" opacity="0.9"/>
<text x="1342.9" y="231" font-size="19.2" font-family="Liberation Sans, Noto Sans CJK SC, sans-serif" fill="#fff">1.3305</text>
<rect x="1346.7" y="958" width="2.0" height="1" fill="#666"/>
<rect x="1352.0" y="958" width="3.6" height="1" fill="#666"/>
<rect x="1365.0" y="958" width="4.0" height="1" fill="#666"/>
<rect x="1382.4" y="958" width="4.1" height="1" fill="#666"/>
<rect x="1393.4" y="958" width="4.1" height="1" fill="#666"/>
<rect x="1405.8" y="958" width="1.2" height="1" fill="#666"/>
<rect x="1417.5" y="958" width="2.0" height="1" fill="#666"/>
<text x="21.3" y="95.5" font-size="20.4" textLength="27.3" lengthAdjust="spacingAndGlyphs" font-family="Liberation Sans, Noto Sans CJK SC, sans-serif" fill="#222">开:</text>
<text x="50.8" y="95.5" font-size="21.5" textLength="64.6" lengthAdjust="spacingAndGlyphs" font-family="Liberation Sans, Noto Sans CJK SC, sans-serif" fill="#cf2a20">1.3261</text>
<text x="136.2" y="95.5" font-size="20.4" textLength="27.3" lengthAdjust="spacingAndGlyphs" font-family="Liberation Sans, Noto Sans CJK SC, sans-serif" fill="#222">高:</text>
<text x="166.1" y="95.5" font-size="21.5" textLength="65.4" lengthAdjust="spacingAndGlyphs" font-family="Liberation Sans, Noto Sans CJK SC, sans-serif" fill="#cf2a20">1.3309</text>
<text x="250.3" y="95.5" font-size="20.4" textLength="27.3" lengthAdjust="spacingAndGlyphs" font-family="Liberation Sans, Noto Sans CJK SC, sans-serif" fill="#222">低:</text>
<text x="280.7" y="95.5" font-size="21.5" textLength="63.6" lengthAdjust="spacingAndGlyphs" font-family="Liberation Sans, Noto Sans CJK SC, sans-serif" fill="#cf2a20">1.3261</text>
<text x="364.6" y="95.5" font-size="20.4" textLength="27.3" lengthAdjust="spacingAndGlyphs" font-family="Liberation Sans, Noto Sans CJK SC, sans-serif" fill="#222">收:</text>
<text x="395" y="95.5" font-size="21.5" textLength="64.6" lengthAdjust="spacingAndGlyphs" font-family="Liberation Sans, Noto Sans CJK SC, sans-serif" fill="#cf2a20">1.3305</text>
<text x="22.6" y="124" font-size="21.5" textLength="52" lengthAdjust="spacingAndGlyphs" font-family="Liberation Sans, Noto Sans CJK SC, sans-serif" fill="#d2416f">MA5:</text>
<text x="84.4" y="124" font-size="21.5" textLength="65.5" lengthAdjust="spacingAndGlyphs" font-family="Liberation Sans, Noto Sans CJK SC, sans-serif" fill="#d2416f">1.3290</text>
<text x="169.3" y="124" font-size="21.5" textLength="64" lengthAdjust="spacingAndGlyphs" font-family="Liberation Sans, Noto Sans CJK SC, sans-serif" fill="#3fb6c8">MA10:</text>
<text x="244" y="124" font-size="21.5" textLength="64.6" lengthAdjust="spacingAndGlyphs" font-family="Liberation Sans, Noto Sans CJK SC, sans-serif" fill="#3fb6c8">1.3283</text>
<text x="327.7" y="124" font-size="21.5" textLength="64.5" lengthAdjust="spacingAndGlyphs" font-family="Liberation Sans, Noto Sans CJK SC, sans-serif" fill="#a54fb5">MA20:</text>
<text x="403" y="124" font-size="21.5" textLength="63.7" lengthAdjust="spacingAndGlyphs" font-family="Liberation Sans, Noto Sans CJK SC, sans-serif" fill="#a54fb5">1.3303</text>
<text x="22" y="771.3" font-size="19" textLength="63" lengthAdjust="spacingAndGlyphs" font-family="Liberation Sans, Noto Sans CJK SC, sans-serif" fill="#c4222a">MACD:</text>
<text x="89" y="771.3" font-size="19" textLength="61" lengthAdjust="spacingAndGlyphs" font-family="Liberation Sans, Noto Sans CJK SC, sans-serif" fill="#c4222a">0.0000</text>
<text x="169" y="771.3" font-size="19" textLength="45" lengthAdjust="spacingAndGlyphs" font-family="Liberation Sans, Noto Sans CJK SC, sans-serif" fill="#4f9bdc">DIFF:</text>
<text x="217.5" y="771.3" font-size="19" textLength="61" lengthAdjust="spacingAndGlyphs" font-family="Liberation Sans, Noto Sans CJK SC, sans-serif" fill="#4f9bdc">0.0000</text>
<text x="298.3" y="771.3" font-size="19" textLength="42" lengthAdjust="spacingAndGlyphs" font-family="Liberation Sans, Noto Sans CJK SC, sans-serif" fill="#ea7a24">DEA:</text>
<text x="344" y="771.3" font-size="19" textLength="62" lengthAdjust="spacingAndGlyphs" font-family="Liberation Sans, Noto Sans CJK SC, sans-serif" fill="#ea7a24">0.0000</text>
</svg>
</body></html>
